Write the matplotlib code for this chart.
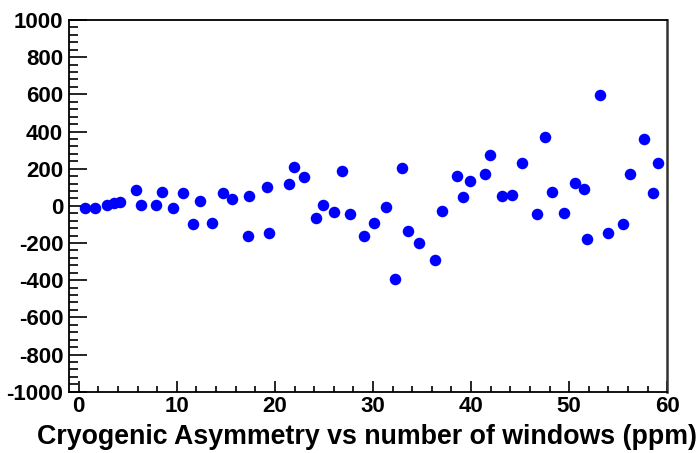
import numpy as np
import matplotlib
matplotlib.use('Agg')
import matplotlib.pyplot as plt
from matplotlib.ticker import MultipleLocator

plt.rcParams['font.family'] = ['Liberation Sans', 'DejaVu Sans']
plt.rcParams['font.weight'] = 'bold'
plt.rcParams['axes.unicode_minus'] = False

# number of windows vs asymmetry (ppm)
ventanas = [0.6, 1.7, 2.9, 3.6, 4.2, 5.8, 6.3, 7.9, 8.5, 9.6, 10.6, 11.7, 12.4, 13.6,
            14.7, 15.6, 17.3, 17.4, 19.2, 19.4, 21.4, 21.9, 23.0, 24.2, 24.9, 26.0,
            26.8, 27.7, 29.1, 30.1, 31.3, 32.2, 33.0, 33.6, 34.7, 36.3, 37.0, 38.6,
            39.2, 39.9, 41.4, 41.9, 43.1, 44.2, 45.2, 46.7, 47.5, 48.2, 49.5, 50.6,
            51.5, 51.8, 53.1, 54.0, 55.5, 56.2, 57.6, 58.5, 59.1]
asimetria = [-9, -9, 5, 14, 21, 85, 5, 5, 76, -9, 67, -97, 28, -90,
             71, 37, -161, 53, 100, -146, 116, 210, 156, -66, 5, -34,
             189, -43, -161, -90, -4, -391, 205, -138, -200, -289, -27, 162,
             46, 132, 171, 272, 53, 60, 233, -43, 369, 76, -36, 124,
             92, -177, 599, -145, -98, 171, 360, 67, 233]

fig = plt.figure(figsize=(6.99, 4.53), dpi=100)
ax = fig.add_axes([68.7/699, 1-391.7/453, (667.3-68.7)/699, (391.7-20)/453])

ax.plot(ventanas, asimetria, 'o', color='#0000ff', markersize=8.3, markeredgewidth=0)

ax.set_xlim(-1.02, 60)
ax.set_ylim(-1000, 1000)
ax.xaxis.set_major_locator(MultipleLocator(10))
ax.xaxis.set_minor_locator(MultipleLocator(2))
ax.yaxis.set_major_locator(MultipleLocator(200))
ax.yaxis.set_minor_locator(MultipleLocator(40))

ax.tick_params(axis='both', which='both', direction='in', top=False, right=False,
               width=1.2, colors='black', labelsize=16)
ax.tick_params(axis='y', which='major', length=13, pad=4)
ax.tick_params(axis='y', which='minor', length=6.5)
ax.tick_params(axis='x', which='major', length=8, pad=3)
ax.tick_params(axis='x', which='minor', length=4.5)

for lado in ['left', 'bottom', 'top']:
    ax.spines[lado].set_linewidth(1.3)
ax.spines['right'].set_linewidth(1.8)
ax.spines['right'].set_color('#333333')

for t in ax.get_xticklabels() + ax.get_yticklabels():
    t.set_fontweight('bold')

fig.text(367/699, 1-437/453, 'Cryogenic Asymmetry vs number of windows (ppm)',
         ha='center', va='center', fontsize=19.3, fontweight='bold')

fig.savefig('out.png', dpi=100)
